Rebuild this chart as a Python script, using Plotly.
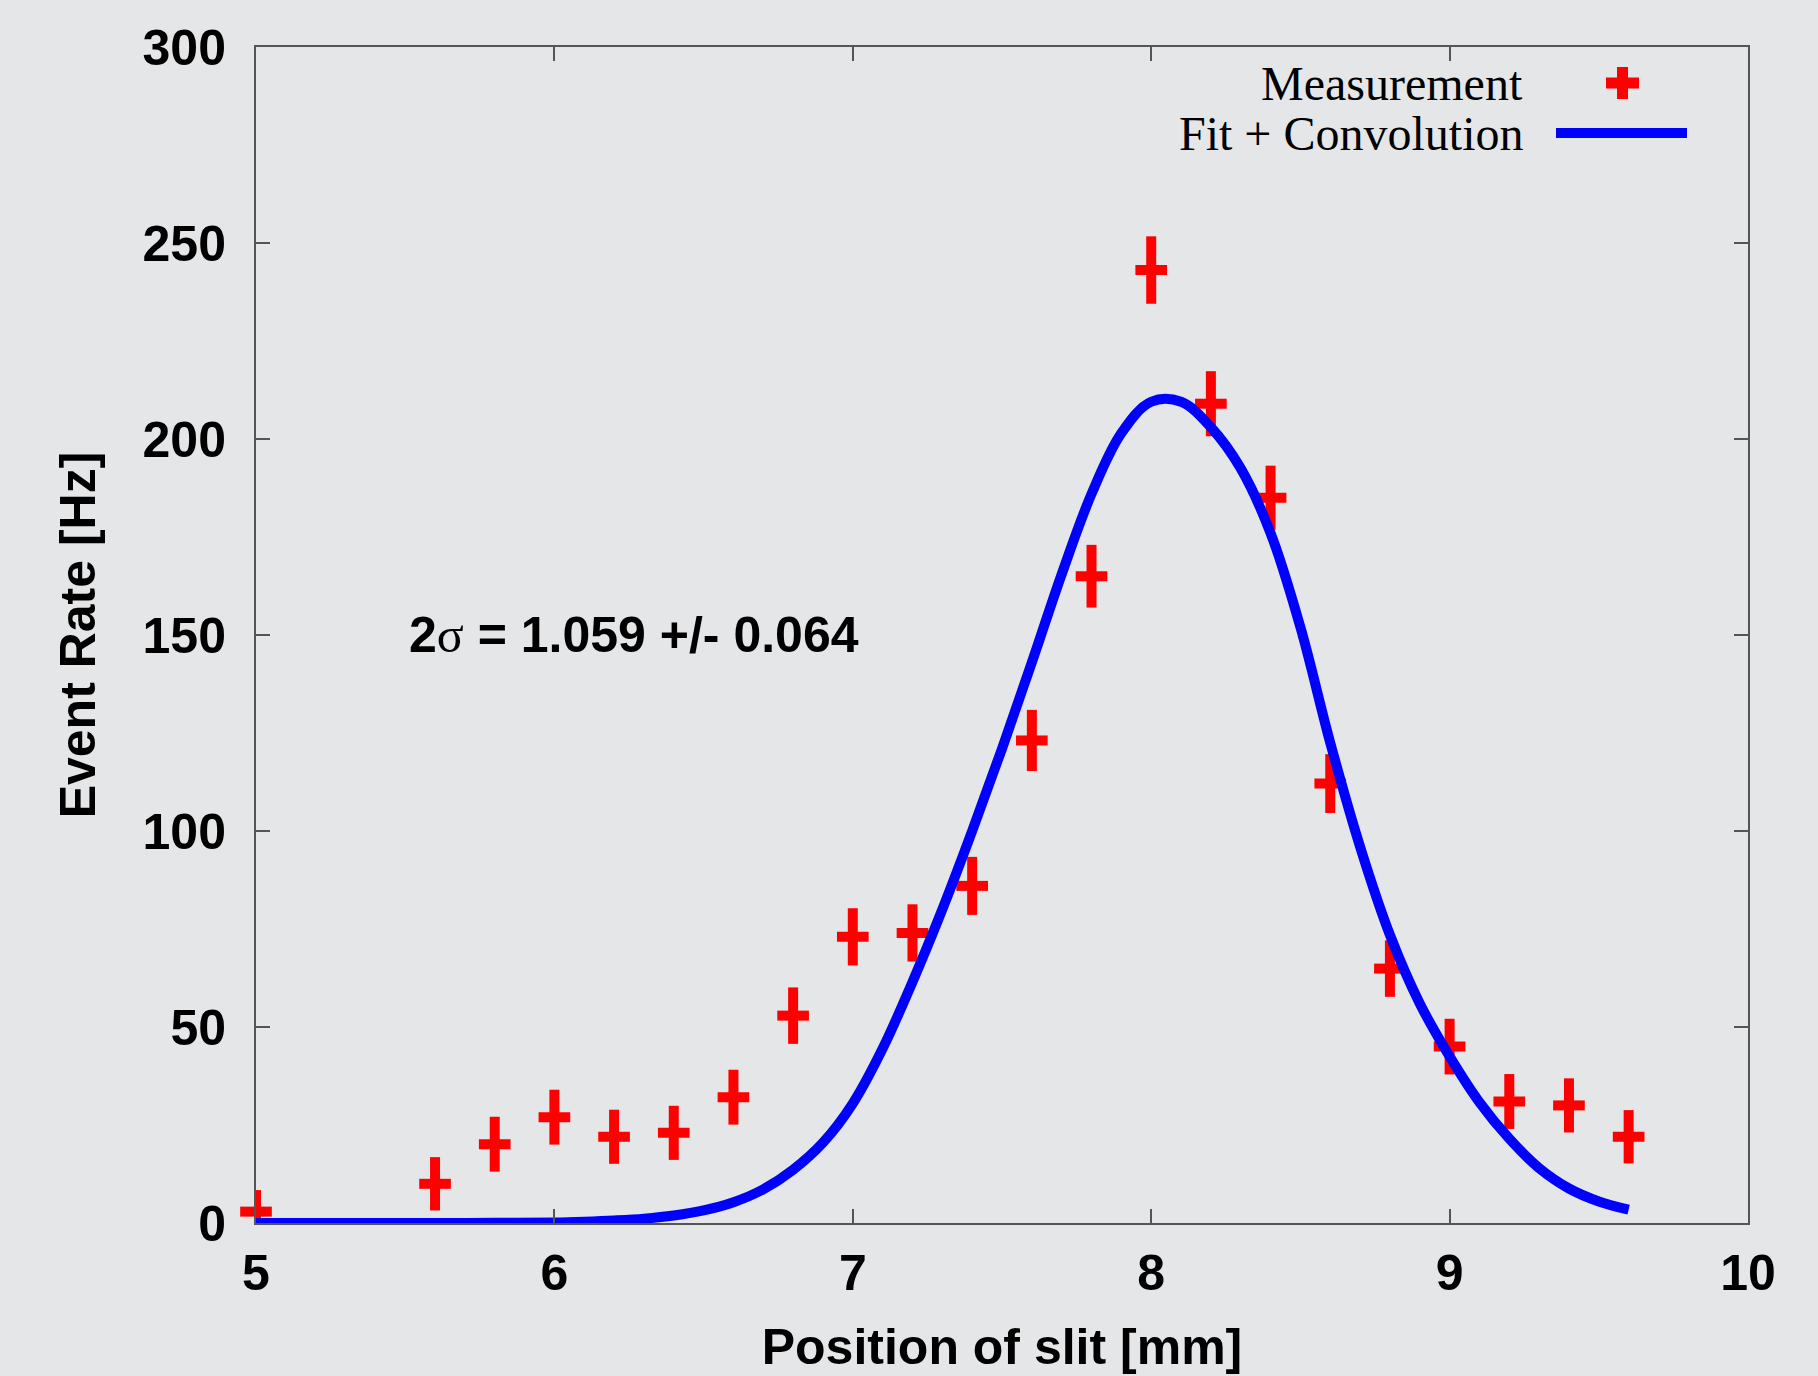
import plotly.graph_objects as go

# ---- data ----
meas_x = [5.0, 5.6, 5.8, 6.0, 6.2, 6.4, 6.6, 6.8, 7.0, 7.2, 7.4, 7.6, 7.8, 8.0, 8.2, 8.4, 8.6, 8.8, 9.0, 9.2, 9.4, 9.6]
meas_y = [2.9, 10.0, 20.1, 27.0, 22.0, 23.0, 32.1, 52.9, 73.0, 74.0, 86.0, 123.1, 165.0, 243.1, 209.0, 185.0, 112.1, 64.9, 45.0, 31.0, 30.0, 22.0]
meas_err = [5.5, 6.8, 7.0, 7.0, 6.9, 6.9, 7.0, 7.2, 7.3, 7.3, 7.4, 7.8, 8.0, 8.6, 8.3, 8.2, 7.5, 7.2, 7.1, 7.0, 6.9, 6.8]

fit_x = [5.0, 5.2, 5.4, 5.6, 5.8, 6.0, 6.1, 6.2, 6.3, 6.4, 6.5, 6.6, 6.7, 6.8, 6.9, 7.0, 7.1, 7.2, 7.3, 7.4,
         7.5, 7.6, 7.7, 7.8, 7.9, 8.0, 8.1, 8.2, 8.3, 8.4, 8.5, 8.6, 8.7, 8.8, 8.9, 9.0, 9.1, 9.2, 9.3,
         9.4, 9.5, 9.6]
fit_y = [0.0, 0.0, 0.0, 0.0, 0.05, 0.15, 0.35, 0.65, 1.1, 1.9, 3.2, 5.3, 8.6, 13.6, 20.5, 30.5, 44.5, 61.5, 80.0, 100.0,
         121.0, 143.0, 165.5, 186.0, 201.5, 209.5, 209.5, 203.0, 192.5, 176.0, 152.0, 122.5, 96.0, 73.5, 56.0, 42.5, 30.8, 21.5, 14.0,
         8.8, 5.5, 3.4]

x_ticks = [5, 6, 7, 8, 9, 10]
y_ticks = [0, 50, 100, 150, 200, 250, 300]

legend_labels = ["Measurement", "Fit + Convolution"]
annotation_text = "2<span style=\"font-family:'Liberation Serif';font-weight:normal\">σ</span> = 1.059 +/- 0.064"

# ---- style ----
BG = "#e5e6e8"
AX = "#555555"
RED = "#ff0000"
BLUE = "#0000ff"
SANS = "Liberation Sans, Arial, sans-serif"
SERIF = "Liberation Serif, Times New Roman, serif"

W, H = 1818, 1376
L, R, T, B = 256, 70, 47, 153
PW, PH = W - L - R, H - T - B


def px(xp):
    return (xp - L) / PW


def py(yp):
    return (H - B - yp) / PH


fig = go.Figure()

fig.add_trace(go.Scatter(
    x=meas_x, y=meas_y, mode="markers", name=legend_labels[0],
    marker=dict(symbol="line-ew", size=22.6, color=RED, line=dict(color=RED, width=10)),
    error_y=dict(type="data", array=meas_err, visible=True, color=RED, thickness=10, width=0),
    cliponaxis=False, showlegend=False,
))

fig.add_trace(go.Scatter(
    x=fit_x, y=fit_y, mode="lines", name=legend_labels[1],
    line=dict(color=BLUE, width=10, shape="spline", smoothing=1.0), cliponaxis=False, showlegend=False,
))

axis_common = dict(
    showgrid=False, zeroline=False, showline=True, linecolor=AX, linewidth=2,
    mirror="allticks", ticks="inside", ticklen=14, tickwidth=1.5, tickcolor=AX,
    tickfont=dict(family=SANS, size=50, color="black", weight="bold"),
)

fig.update_layout(
    width=W, height=H,
    margin=dict(l=L, r=R, t=T, b=B),
    paper_bgcolor=BG, plot_bgcolor=BG,
    showlegend=False,
    xaxis=dict(range=[5, 10], tickvals=x_ticks, ticklabelstandoff=5,
               title=dict(text="Position of slit [mm]", standoff=29,
                          font=dict(family=SANS, size=50, color="black", weight="bold")),
               **axis_common),
    yaxis=dict(range=[0, 300], tickvals=y_ticks, ticklabelstandoff=18,
               title=dict(text="Event Rate [Hz]", standoff=31,
                          font=dict(family=SANS, size=50, color="black", weight="bold")),
               **axis_common),
)

fig.add_annotation(
    x=5.506, y=150, xref="x", yref="y", text=annotation_text, showarrow=False,
    xanchor="left", yanchor="middle",
    font=dict(family=SANS, size=50, color="black", weight="bold"),
)

# custom legend (text left, sample right, as in the reference)
leg_text_x = px(1525)
leg_rows_y = [py(84), py(133)]
for lab, yy in zip(legend_labels, leg_rows_y):
    fig.add_annotation(x=leg_text_x, y=yy, xref="paper", yref="paper", text=lab, showarrow=False,
                       xanchor="right", yanchor="middle",
                       font=dict(family=SERIF, size=48, color="black"))

# plus sample
fig.add_shape(type="rect", xref="paper", yref="paper", x0=px(1617), x1=px(1628), y0=py(99), y1=py(67),
              fillcolor=RED, line=dict(width=0))
fig.add_shape(type="rect", xref="paper", yref="paper", x0=px(1606), x1=px(1639), y0=py(88.5), y1=py(77.5),
              fillcolor=RED, line=dict(width=0))
# line sample
fig.add_shape(type="line", xref="paper", yref="paper", x0=px(1556), x1=px(1687), y0=py(133), y1=py(133),
              line=dict(color=BLUE, width=10))

fig.write_html("out.html", config={"displayModeBar": False},
               post_script="document.body.style.margin='0';document.body.style.overflow='hidden';")
